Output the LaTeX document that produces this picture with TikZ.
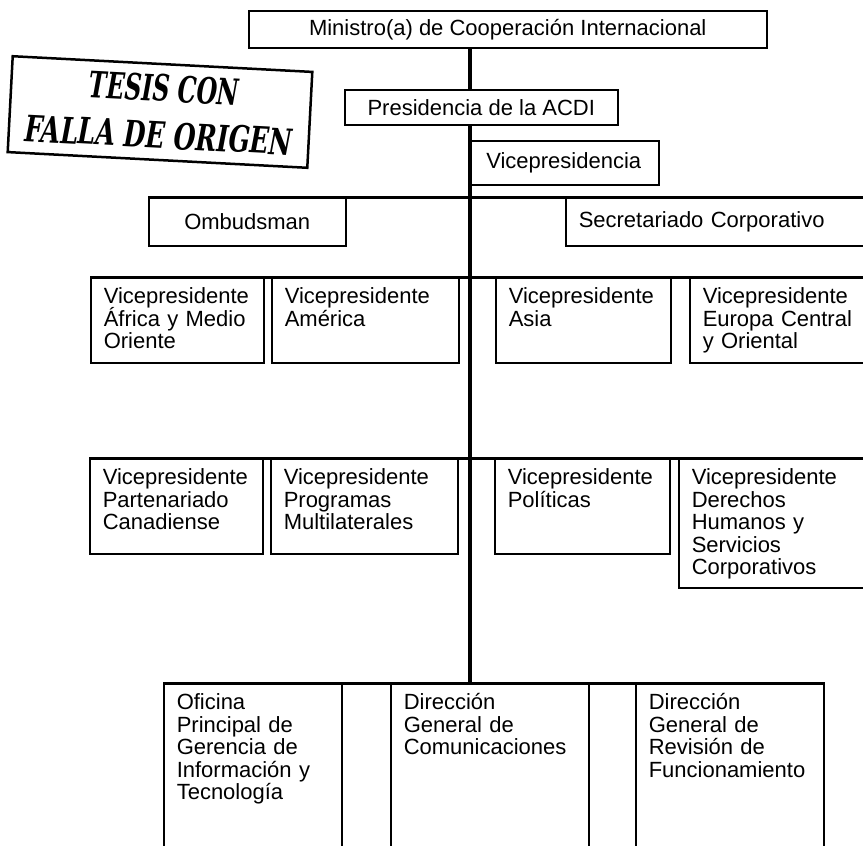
\documentclass[tikz,border=0pt]{standalone}
\usepackage{fontspec}
\usepackage{graphicx}
\usepackage{tikz}
\setmainfont{Liberation Sans}
\newfontfamily\stampfont{DejaVu Serif}
\newcommand{\orgfont}{\fontsize{22pt}{22.5pt}\selectfont\lineskiplimit=-10pt}

\begin{document}
\begin{tikzpicture}[x=1pt, y=-1pt,
    unit/.style={draw, rectangle, fill=white, line width=1.5pt, anchor=north west, inner sep=0pt, font=\orgfont},
    vpbox/.style={unit, align=left, inner xsep=13pt, inner ysep=10pt, text height=16pt},
    bus/.style={line width=3pt},
    spineline/.style={line width=4.5pt}]
            \clip (0,0) rectangle (863,846);

            % Stamp
            \begin{scope}[rotate around={-3:(160,112)}]
                \draw[line width=2.5pt] (10,64) rectangle (310,160);
                \node[transform shape] (tesis) at (163,88) {\resizebox{150pt}{27pt}{\stampfont\bfseries\itshape TESIS CON}};
                \node[transform shape] (falla) at (160,135) {\resizebox{268pt}{27pt}{\stampfont\bfseries\itshape FALLA DE ORIGEN}};
            \end{scope}

            % Ministro
            \node[unit, minimum width=518pt, minimum height=37pt] (ministro) at (248,10) {Ministro(a) de Cooperación Internacional};

            % Presidencia
            \node[unit, minimum width=273pt, minimum height=35pt] (presidencia) at (344,89) {Presidencia de la ACDI};

            % Vicepresidencia
            \node[unit, minimum width=190pt, minimum height=44pt] (vicepres) at (468,140) {Vicepresidencia};

            % Ombudsman and Secretariado
            \node[unit, minimum width=197pt, minimum height=48pt] (ombudsman) at (148,197) {Ombudsman};
            \node[unit, minimum width=320pt, minimum height=48pt, inner xsep=13pt, text width=294pt, align=left] (secretariado) at (565,197) {Secretariado Corporativo};

            % Vicepresidentes regionales
            \node[vpbox, text width=147pt, text depth=49pt] (vpafrica) at (90,277) {Vicepresidente\\África y Medio\\Oriente};
            \node[vpbox, text width=161pt, text depth=49pt] (vpamerica) at (271,277) {Vicepresidente\\América};
            \node[vpbox, text width=149pt, text depth=49pt] (vpasia) at (495,277) {Vicepresidente\\Asia};
            \node[vpbox, text width=174pt, text depth=49pt] (vpeuropa) at (689,277) {Vicepresidente\\Europa Central\\y Oriental};

            % Vicepresidentes de programas
            \node[vpbox, text width=147pt, text depth=59pt] (vppartner) at (89,458) {Vicepresidente\\Partenariado\\Canadiense};
            \node[vpbox, text width=161pt, text depth=59pt] (vpmulti) at (270,458) {Vicepresidente\\Programas\\Multilaterales};
            \node[vpbox, text width=149pt, text depth=59pt] (vppoliticas) at (494,458) {Vicepresidente\\Políticas};
            \node[vpbox, text width=184pt, text depth=93pt] (vpderechos) at (678,458) {Vicepresidente\\Derechos\\Humanos y\\Servicios\\Corporativos};

            % Direcciones
            \node[vpbox, text width=152pt, text depth=164pt] (oficina) at (163,683) {Oficina\\Principal de\\Gerencia de\\Información y\\Tecnología};
            \node[vpbox, text width=172pt, text depth=164pt] (comunic) at (390,683) {Dirección\\General de\\Comunicaciones};
            \node[vpbox, text width=162pt, text depth=164pt] (revision) at (635,683) {Dirección\\General de\\Revisión de\\Funcionamiento};

            % Lines
            \coordinate (spine) at (470,0);
            \draw[spineline] (ministro.south -| spine) -- (presidencia.north -| spine);
            \draw[spineline] (presidencia.south -| spine) -- (oficina.north -| spine);
            \draw[bus] (ombudsman.north west) -- (secretariado.north east);
            \draw[bus] (vpafrica.north west) -- (vpeuropa.north east);
            \draw[bus] (vppartner.north west) -- (vpderechos.north east);
            \draw[bus] (oficina.north west) -- (revision.north east);
        \end{tikzpicture}
\end{document}
